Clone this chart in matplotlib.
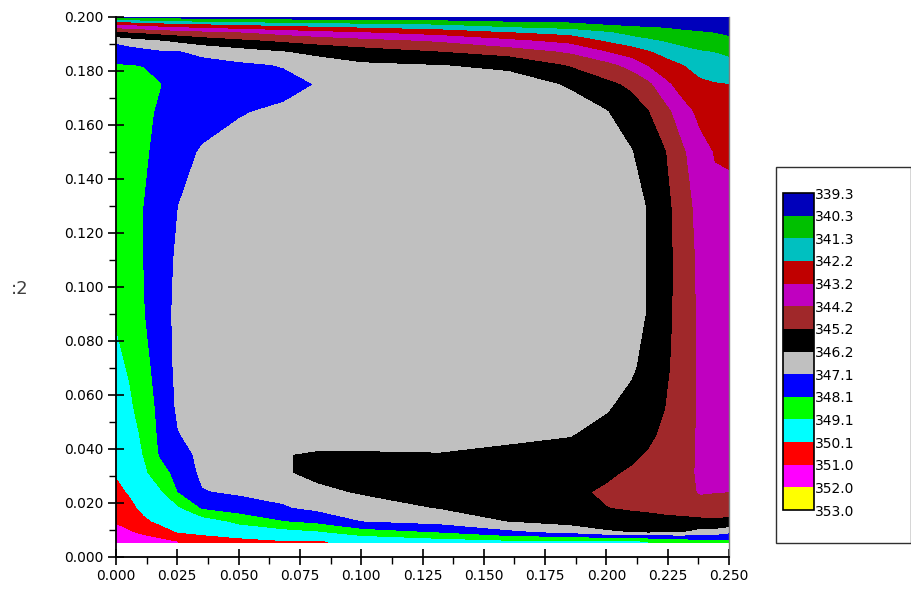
import numpy as np
import matplotlib
matplotlib.use("Agg")
from matplotlib import pyplot as plt
from matplotlib.patches import Rectangle
from matplotlib.ticker import MultipleLocator, FormatStrFormatter

# contour levels and fill colours (same order as the legend box)
levels = [339.3, 340.3, 341.3, 342.2, 343.2, 344.2, 345.2, 346.2,
          347.1, 348.1, 349.1, 350.1, 351.0, 352.0, 353.0]
fill_colors = ["#0000bb", "#00c000", "#00c0c0", "#c00000", "#c000c0",
               "#a0282a", "#000000", "#c0c0c0", "#0000ff", "#00ff00",
               "#00ffff", "#ff0000", "#ff00ff", "#ffff00"]

# grid positions (m)
x_pos = [0.0, 0.005, 0.011, 0.018, 0.025, 0.035, 0.05, 0.068, 0.082, 0.1,
         0.132, 0.16, 0.185, 0.2, 0.21, 0.217, 0.224, 0.231, 0.238, 0.244, 0.25]
y_pos = [0.0055, 0.009, 0.013, 0.018, 0.024, 0.031, 0.038, 0.045, 0.055,
         0.07, 0.09, 0.11, 0.13, 0.15, 0.165, 0.175, 0.182, 0.187, 0.191,
         0.194, 0.197, 0.2]

# temperature, one list per x position (bottom -> top)
temp_cols = [
    [351.9, 351.33, 350.89, 350.62, 350.29, 350.03, 349.90, 349.77, 349.58, 349.29, 349.00,
     348.81, 348.62, 348.43, 348.29, 348.20, 348.13, 347.73, 346.85, 345.42, 343.2, 339.9],
    [351.6, 351.08, 350.73, 350.33, 350.03, 349.85, 349.68, 349.50, 349.25, 349.03, 348.86,
     348.70, 348.54, 348.37, 348.25, 348.17, 348.11, 347.53, 346.63, 345.25, 343.08, 339.8],
    [351.4, 350.84, 350.25, 349.91, 349.62, 349.29, 349.05, 348.93, 348.76, 348.50, 348.15,
     348.09, 348.10, 348.25, 348.30, 348.30, 348.08, 347.37, 346.43, 345.10, 342.87, 339.7],
    [351.3, 350.42, 349.92, 349.58, 349.17, 348.5, 347.95, 347.85, 347.75, 347.55, 347.5,
     347.5, 347.68, 347.8, 347.98, 348.12, 347.7, 347.18, 346.25, 344.91, 342.64, 339.6],
    [351.0, 350.06, 349.69, 349.23, 348.08, 347.77, 347.46, 347.14, 346.95, 346.9, 346.85,
     346.95, 347.1, 347.35, 347.55, 347.6, 347.45, 347.15, 346.03, 344.75, 342.5, 339.6],
    [350.45, 349.94, 349.6, 347.99, 347.15, 346.9, 346.85, 346.78, 346.72, 346.7, 346.7,
     346.72, 346.8, 347.02, 347.4, 347.55, 347.4, 346.88, 345.74, 344.53, 342.29, 339.55],
    [350.3, 349.73, 348.85, 347.58, 346.95, 346.8, 346.7, 346.65, 346.62, 346.6, 346.6,
     346.6, 346.65, 346.82, 347.15, 347.45, 347.25, 346.57, 345.41, 344.28, 342.07, 339.5],
    [350.15, 349.46, 348.14, 347.19, 346.8, 346.3, 346.22, 346.45, 346.55, 346.58, 346.6,
     346.6, 346.62, 346.7, 346.95, 347.35, 347.05, 346.23, 345.06, 343.85, 341.88, 339.4],
    [350.15, 349.19, 347.85, 346.85, 346.4, 345.95, 346.15, 346.4, 346.5, 346.55, 346.57,
     346.58, 346.6, 346.65, 346.8, 347.05, 346.65, 345.96, 344.8, 343.57, 341.72, 339.4],
    [349.95, 348.55, 347.1, 346.6, 346.1, 345.9, 346.15, 346.4, 346.5, 346.55, 346.55,
     346.55, 346.55, 346.58, 346.6, 346.62, 346.35, 345.64, 344.53, 343.3, 341.56, 339.4],
    [349.55, 348.05, 346.75, 346.15, 345.9, 345.85, 346.18, 346.35, 346.45, 346.5, 346.52,
     346.53, 346.53, 346.52, 346.5, 346.45, 346.21, 345.2, 344.08, 342.83, 341.3, 339.4],
    [349.3, 347.3, 346.18, 345.85, 345.7, 345.75, 346.08, 346.3, 346.4, 346.47, 346.5,
     346.5, 346.5, 346.48, 346.44, 346.42, 346.1, 344.72, 343.45, 342.28, 340.86, 339.35],
    [349.3, 346.85, 345.85, 345.5, 345.4, 345.55, 345.9, 346.22, 346.35, 346.43, 346.47,
     346.48, 346.48, 346.45, 346.4, 346.15, 345.12, 344.06, 342.9, 341.9, 340.63, 339.35],
    [349.25, 346.33, 345.7, 345.22, 345.05, 345.35, 345.65, 345.95, 346.25, 346.4, 346.45,
     346.48, 346.48, 346.42, 346.23, 345.43, 344.5, 343.2, 342.12, 341.45, 340.28, 339.35],
    [349.2, 346.2, 345.6, 345.1, 344.85, 345.05, 345.4, 345.65, 345.95, 346.3, 346.45,
     346.45, 346.45, 346.25, 345.7, 345.0, 343.85, 342.64, 341.73, 341.03, 340.14, 339.35],
    [349.1, 346.1, 345.5, 345.05, 344.8, 344.85, 345.1, 345.4, 345.7, 345.95, 346.15,
     346.15, 346.15, 345.75, 345.22, 344.41, 343.12, 342.27, 341.48, 340.81, 340.1, 339.35],
    [348.95, 346.15, 345.45, 344.95, 344.7, 344.65, 344.75, 344.95, 345.18, 345.35, 345.45,
     345.48, 345.45, 345.22, 344.5, 343.41, 342.56, 341.9, 341.23, 340.67, 340.07, 339.35],
    [348.7, 346.2, 345.4, 344.9, 344.6, 344.5, 344.55, 344.6, 344.65, 344.75, 344.8,
     344.8, 344.7, 344.35, 343.55, 342.75, 342.22, 341.58, 341.01, 340.49, 339.97, 339.35],
    [348.5, 346.5, 345.45, 344.6, 344.1, 344.05, 344.05, 344.05, 344.05, 344.03, 344.0,
     343.95, 343.8, 343.5, 342.95, 342.35, 341.89, 341.37, 340.83, 340.4, 339.87, 339.35],
    [348.4, 346.55, 345.35, 344.65, 344.15, 343.95, 343.9, 343.85, 343.82, 343.75, 343.68,
     343.55, 343.4, 343.15, 342.6, 342.25, 341.71, 341.28, 340.7, 340.3, 339.8, 339.35],
    [348.4, 346.9, 345.4, 344.8, 344.18, 343.95, 343.85, 343.8, 343.75, 343.65, 343.55,
     343.42, 343.35, 343.12, 342.5, 342.2, 341.6, 341.1, 340.6, 340.1, 339.75, 339.4],
]

x_ticks = [0.0, 0.025, 0.05, 0.075, 0.1, 0.125, 0.15, 0.175, 0.2, 0.225, 0.25]
y_ticks = [0.0, 0.02, 0.04, 0.06, 0.08, 0.1, 0.12, 0.14, 0.16, 0.18, 0.2]

temp = np.array(temp_cols).T

fig = plt.figure(figsize=(9.12, 5.89), dpi=100)
ax = fig.add_axes([116 / 912, 32 / 589, 613 / 912, 540 / 589])

cf = ax.contourf(x_pos, y_pos, temp, levels=levels, colors=fill_colors)

ax.set_xlim(0, 0.25)
ax.set_ylim(0, 0.2)
ax.set_xticks(x_ticks)
ax.set_yticks(y_ticks)
ax.xaxis.set_major_formatter(FormatStrFormatter("%.3f"))
ax.yaxis.set_major_formatter(FormatStrFormatter("%.3f"))
ax.xaxis.set_minor_locator(MultipleLocator(0.0125))
ax.yaxis.set_minor_locator(MultipleLocator(0.01))
ax.tick_params(which="major", direction="inout", length=11.5, width=1.2,
               pad=3, labelsize=10, colors="black")
ax.tick_params(which="minor", direction="out", length=5, width=1.0)

ax.spines["top"].set_visible(False)
ax.spines["left"].set_linewidth(1.3)
ax.spines["bottom"].set_linewidth(1.3)
ax.spines["right"].set_linewidth(1.0)
ax.spines["right"].set_color("#808080")

# legend box on the right
frame = Rectangle((776 / 912, 46 / 589), 135 / 912, 376 / 589, fill=False,
                  edgecolor="#303030", linewidth=1.0, transform=fig.transFigure)
fig.add_artist(frame)

cax = fig.add_axes([783 / 912, 79 / 589, 31 / 912, 317 / 589])
cb = fig.colorbar(cf, cax=cax, ticks=levels, drawedges=True)
cb.ax.invert_yaxis()
cb.set_ticklabels([f"{v:.1f}" for v in levels])
cb.ax.tick_params(length=0, pad=1, labelsize=10)
cb.outline.set_linewidth(1.2)
cb.dividers.set_linewidth(1.2)

# clipped axis title at the left
fig.text(20 / 912, 1 - 289 / 589, ":2", fontsize=13, color="#404040",
         ha="center", va="center")

fig.savefig("out.png", dpi=100)
